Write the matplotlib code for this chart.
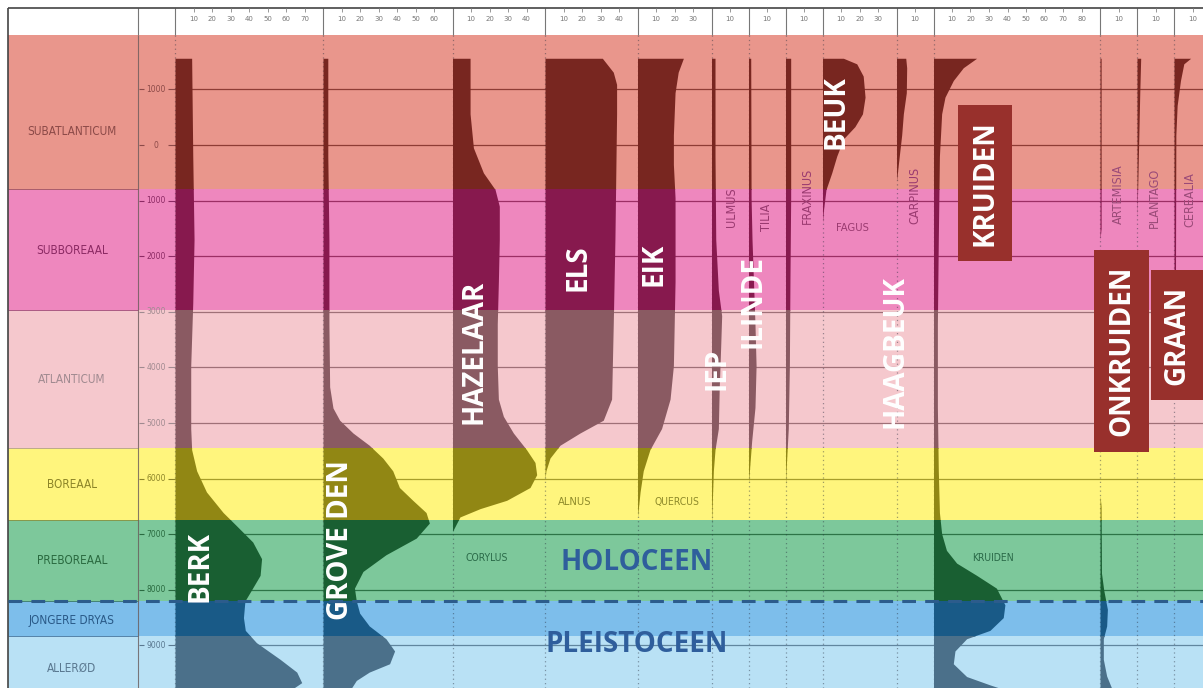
import numpy as np
import matplotlib.pyplot as plt
from matplotlib.patches import Rectangle

# ---- zones (age in years BC, negative = AD) ----
zone_names = ["SUBATLANTICUM", "SUBBOREAAL", "ATLANTICUM", "BOREAAL",
              "PREBOREAAL", "JONGERE DRYAS", "ALLERØD"]
zone_top = [-1980, 790, 2970, 5450, 6740, 8210, 8830]
zone_bottom = [790, 2970, 5450, 6740, 8210, 8830, 9770]
zone_label_age = [-250, 1890, 4210, 6115, 7480, 8545, 9405]
zone_fill = ["#e9968c", "#ee87be", "#f5c8cd", "#fff57d", "#7dc89b", "#7dbeeb", "#b9e1f5"]
zone_curve = ["#782620", "#87194e", "#8a5a62", "#918714", "#195f32", "#195a87", "#4b708a"]
zone_text = ["#8c4a48", "#8c2a64", "#a08a90", "#8c8428", "#2a6a40", "#2a5a88", "#5a7890"]

tick_ages = [-1000, 0, 1000, 2000, 3000, 4000, 5000, 6000, 7000, 8000, 9000]
tick_labels = ["1000", "0", "1000", "2000", "3000", "4000", "5000",
               "6000", "7000", "8000", "9000"]

# ---- pollen curves (percent) ----
taxa = ["BETULA", "PINUS", "CORYLUS", "ALNUS", "QUERCUS", "ULMUS", "TILIA",
        "FRAXINUS", "FAGUS", "CARPINUS", "KRUIDEN", "ARTEMISIA", "PLANTAGO", "CEREALIA"]
col_width = [80, 70, 50, 50, 40, 20, 20, 20, 40, 20, 90, 20, 20, 16]

berk_age = [-1560, 200, 1700, 2840, 3970, 5100, 5480, 5860, 6240, 6610, 6840, 7140,
            7440, 7740, 8050, 8200, 8500, 8730, 8950, 9250, 9480, 9670, 9770]
berk_pct = [9, 9.6, 10.3, 9.6, 8.5, 8.5, 9, 11.7, 17, 26, 33, 42,
            46.8, 46, 40.5, 37.8, 37, 38, 44, 56.8, 65.8, 68.5, 64]

grove_age = [-1560, 200, 1700, 3220, 4350, 4730, 4950, 5180, 5400, 5630, 5860, 6160, 6390, 6610,
             6800, 7070, 7370, 7670, 7970, 8200, 8420, 8650, 8880, 9100, 9330, 9480, 9630, 9770]
grove_pct = [2.6, 2.6, 3.2, 3.2, 3.6, 5.4, 9, 16.2, 25, 32.3, 37.7, 41.3, 48.5, 55.7,
             57.5, 50.4, 34, 21.6, 17, 18, 19.8, 25, 34, 38.7, 36, 25, 18, 15.3]

hazel_age = [-1560, -560, 50, 500, 800, 1100, 1700, 2460, 3220, 3970, 4570, 4880, 5180,
             5480, 5710, 5930, 6160, 6390, 6540, 6690, 6950, 9770]
hazel_pct = [9.5, 9.5, 11.3, 16.7, 23, 25.3, 25.3, 24.8, 24.2, 24.2, 24.8, 27.5, 32.9,
             40, 44.6, 45.5, 41.9, 29.3, 14.9, 4, 0, 0]

els_age = [-1560, -1310, -1090, -560, 200, 1700, 3220, 4570, 4950, 5180, 5400, 5630, 5860, 6010, 9770]
els_pct = [31, 36.9, 38.7, 38.7, 38.4, 37.8, 36.9, 36, 31.5, 18.9, 8.1, 2.7, 0.5, 0, 0]

eik_age = [-1560, -1310, -940, -180, 350, 950, 2460, 3970, 4570, 5100, 5480, 5860, 6240, 6690, 9770]
eik_pct = [24.8, 22, 20.3, 19.4, 19.4, 20.3, 20.3, 19.4, 17.6, 13, 6.7, 3.1, 1.4, 0, 0]

ulmus_age = [-1560, 200, 1700, 2610, 3070, 3590, 4350, 5100, 5480, 5860, 6840, 9770]
ulmus_pct = [1.9, 1.9, 2.3, 3.7, 5.5, 5, 4.2, 3.7, 1.9, 1, 0, 0]

tilia_age = [-1560, 950, 1700, 3220, 3970, 4720, 5330, 6080, 9770]
tilia_pct = [1.2, 1.4, 1.9, 3.5, 4.1, 3.5, 1.7, 0, 0]

frax_age = [-1560, 950, 2460, 3970, 5100, 5860, 6160, 9770]
frax_pct = [2.8, 2.8, 2.4, 2.1, 1.5, 0.3, 0, 0]

fagus_age = [-1560, -1460, -1240, -860, -560, -330, -110, 200, 500, 800, 1180, 1400, 9770]
fagus_pct = [11.3, 18.5, 22, 23, 21.6, 17.5, 11.3, 7.7, 5, 1.9, 0.5, 0, 0]

carp_age = [-1560, -1390, -940, -560, -180, 200, 650, 9770]
carp_pct = [5, 5.5, 5.3, 3.7, 2.8, 1.5, 0, 0]

kruiden_age = [-1560, -1390, -1160, -860, -560, 200, 1700, 3220, 4720, 5860, 6610, 6990, 7290,
               7520, 7740, 7970, 8270, 8500, 8730, 8880, 9100, 9330, 9560, 9710, 9770]
kruiden_pct = [23.3, 16.1, 10.7, 6.2, 4.4, 3.2, 2.6, 2.1, 2.1, 2.6, 3.2, 4.4, 7,
               12.5, 23.3, 34, 38.6, 37.7, 30.5, 17.9, 11.6, 10.7, 17.9, 30.5, 36]

art_age = [-1560, 1500, 1700, 6300, 6500, 7700, 8000, 8350, 8650, 8880, 9250, 9550, 9770]
art_pct = [0.6, 0.6, 0, 0, 0.6, 0.8, 2, 4, 3.6, 1.8, 1.8, 3.6, 6.3]

plant_age = [-1560, -940, -180, 570, 1330, 9770]
plant_pct = [2, 1.5, 1, 0.5, 0, 0]

cer_age = [-1560, -1460, -1160, -710, -180, 2500, 2700, 9770]
cer_pct = [9, 5.3, 3.5, 1.7, 1.0, 0.8, 0, 0]

curves = [(berk_age, berk_pct), (grove_age, grove_pct), (hazel_age, hazel_pct),
          (els_age, els_pct), (eik_age, eik_pct), (ulmus_age, ulmus_pct),
          (tilia_age, tilia_pct), (frax_age, frax_pct), (fagus_age, fagus_pct),
          (carp_age, carp_pct), (kruiden_age, kruiden_pct), (art_age, art_pct),
          (plant_age, plant_pct), (cer_age, cer_pct)]

# ---- layout (pixels) ----
W, H = 1203, 688
PX_PER_PCT = 1.85
FIRST_COL = 175


def px_to_age(py):
    return (py - 145) * 1000 / 55.6


AGE_LO, AGE_HI = px_to_age(H), px_to_age(0)
plt.rcParams['font.family'] = 'DejaVu Sans'

fig = plt.figure(figsize=(W / 100, H / 100), dpi=100)
bg = fig.add_axes([0, 0, 1, 1])
bg.set_xlim(0, W)
bg.set_ylim(AGE_LO, AGE_HI)
bg.axis('off')

# zone bands
for i in range(len(zone_names)):
    bg.axhspan(zone_top[i], zone_bottom[i], xmin=8 / W, xmax=1, color=zone_fill[i], lw=0, zorder=0)
    bg.hlines(zone_bottom[i], 8, 138, colors=zone_text[i], lw=0.7, alpha=0.7)
    bg.text(72, zone_label_age[i], zone_names[i], ha='center', va='center',
            fontsize=8.5, color=zone_text[i], stretch='condensed')

# age axis and gridlines
for a, lab in zip(tick_ages, tick_labels):
    zi = min(np.searchsorted(zone_bottom, a), len(zone_names) - 1)
    bg.text(156, a, lab, ha='center', va='center', fontsize=5.5, color=zone_text[zi])
    bg.hlines(a, 139, 144, colors=zone_text[zi], lw=0.8)
    bg.hlines(a, 168, 175, colors=zone_text[zi], lw=0.8)
    bg.hlines(a, FIRST_COL, W, colors=zone_curve[zi], lw=0.9, alpha=0.8)

col_left = FIRST_COL + np.concatenate([[0], np.cumsum(col_width)[:-1]]) * PX_PER_PCT

# column baselines (dotted) and header separators
bg.vlines(col_left, px_to_age(35), AGE_LO, colors="#2a3040", alpha=0.45,
          linestyles=(0, (1, 2.5)), lw=0.9)
bg.vlines(list(col_left) + [138], px_to_age(8), px_to_age(35), colors="#777777", lw=0.8)
bg.vlines(138, px_to_age(35), AGE_LO, colors="#6a5a5a", lw=0.8, alpha=0.8)
bg.hlines(px_to_age(8), 7.5, W, colors="#444444", lw=1.2)
bg.vlines(7.5, px_to_age(8), AGE_LO, colors="#444444", lw=1.2)

# pollen curves, one axes per taxon
for i, (ages, pct) in enumerate(curves):
    wpx = min(col_width[i] * PX_PER_PCT, W - col_left[i])
    ax = fig.add_axes([col_left[i] / W, 0, wpx / W, 1])
    ax.set_xlim(0, wpx / PX_PER_PCT)
    ax.set_ylim(AGE_LO, AGE_HI)
    ax.axis('off')
    for z in range(len(zone_names)):
        poly = ax.fill_betweenx(ages, 0, pct, color=zone_curve[z], lw=0)
        clip = Rectangle((0, zone_top[z]), col_width[i], zone_bottom[z] - zone_top[z],
                         transform=ax.transData)
        poly.set_clip_path(clip)
    for t in range(10, col_width[i], 10):
        ax.text(t, px_to_age(19), str(t), ha='center', va='center', fontsize=5, color="#777777")
        ax.vlines(t, px_to_age(8), px_to_age(11.5), colors="#888888", lw=0.6)

# overlay: labels and boundary
ov = fig.add_axes([0, 0, 1, 1])
ov.set_xlim(0, W)
ov.set_ylim(AGE_LO, AGE_HI)
ov.axis('off')

ov.hlines(zone_top[5], 8, W, colors="#2c5c8c", linestyles=(0, (4.5, 3)), lw=2.2)

small = [("ALNUS", 575, 502, 0, "#8e8a2a", 8), ("QUERCUS", 677, 502, 0, "#8e8a2a", 7.5),
         ("CORYLUS", 487, 558, 0, "#2a6a48", 7.5), ("KRUIDEN", 993, 558, 0, "#2a6a48", 7.5),
         ("ULMUS", 732, 207, 90, "#9a3a70", 9), ("TILIA", 767, 217, 90, "#9a3a70", 9),
         ("FRAXINUS", 807, 196, 90, "#9a3a70", 9), ("FAGUS", 852, 228, 0, "#9a3a70", 8),
         ("CARPINUS", 915, 195, 90, "#9a3a70", 9), ("ARTEMISIA", 1118, 194, 90, "#9a4a78", 9),
         ("PLANTAGO", 1154, 198, 90, "#9a4a78", 9), ("CEREALIA", 1190, 200, 90, "#9a4a78", 9)]
for txt, x, y, rot, c, fs in small:
    ov.text(x, px_to_age(y), txt, rotation=rot, ha='center', va='center', fontsize=fs,
            color=c, stretch='condensed')

big = [("BERK", 200, 566), ("GROVE DEN", 341, 540), ("HAZELAAR", 474, 352), ("ELS", 578, 268),
       ("EIK", 654, 264), ("IEP", 717, 369), ("ILINDE", 753, 301), ("BEUK", 836, 112),
       ("HAAGBEUK", 895, 352)]
for txt, x, y in big:
    ov.text(x, px_to_age(y), txt, rotation=90, ha='center', va='center', fontsize=20,
            family='Open Sans', weight='bold', color='white')

boxes = [("KRUIDEN", 958, 105, 1012, 261), ("ONKRUIDEN", 1094, 250, 1149, 452),
         ("GRAAN", 1151, 270, 1203, 400)]
for txt, x0, y0, x1, y1 in boxes:
    ov.add_patch(Rectangle((x0, px_to_age(y0)), x1 - x0, px_to_age(y1) - px_to_age(y0),
                           color="#98302c", lw=0))
    ov.text((x0 + x1) / 2, px_to_age((y0 + y1) / 2), txt, rotation=90, ha='center', va='center',
            fontsize=20, family='Open Sans', weight='bold', color='white')

ov.text(637, px_to_age(563), "HOLOCEEN", ha='center', va='center', fontsize=20,
        family='Open Sans', weight='bold', color="#2f5e9c")
ov.text(637, px_to_age(645), "PLEISTOCEEN", ha='center', va='center', fontsize=20,
        family='Open Sans', weight='bold', color="#2f5e9c")

fig.savefig("out.png", dpi=100)
